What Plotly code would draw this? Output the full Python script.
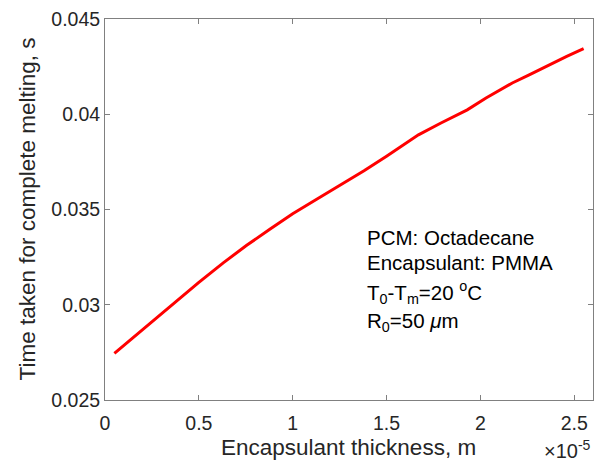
import plotly.graph_objects as go

# Data (thickness in m, time in s)
thickness = [0.05e-5, 0.22e-5, 0.36e-5, 0.50e-5, 0.63e-5, 0.755e-5, 0.88e-5, 1.0e-5,
             1.13e-5, 1.25e-5, 1.38e-5, 1.50e-5, 1.67e-5, 1.79e-5, 1.93e-5,
             2.03e-5, 2.17e-5, 2.26e-5, 2.35e-5, 2.46e-5, 2.55e-5]
melt_time = [0.02745, 0.02885, 0.03003, 0.03117, 0.03220, 0.03312, 0.03398, 0.03478,
             0.03555, 0.03626, 0.03703, 0.03780, 0.03892, 0.03954, 0.04023,
             0.04085, 0.04164, 0.04207, 0.04251, 0.04304, 0.04344]

x_tickvals = [0, 0.5e-5, 1.0e-5, 1.5e-5, 2.0e-5, 2.5e-5]
x_ticktext = ["0", "0.5", "1", "1.5", "2", "2.5"]
y_tickvals = [0.025, 0.03, 0.035, 0.04, 0.045]
y_ticktext = ["0.025", "0.03", "0.035", "0.04", "0.045"]

notes = ["PCM: Octadecane",
         "Encapsulant: PMMA",
         "T<sub>0</sub>-T<sub>m</sub>=20 <sup>o</sup>C",
         "R<sub>0</sub>=50 <i>μ</i>m"]
note_px_y = [237, 262, 292, 322]

FONT = "Arial, Liberation Sans, Helvetica, sans-serif"
W, H = 602, 463
L, R, T, B = 105, 9, 19, 63
pw, ph = W - L - R, H - T - B

def px2paper(px, py):
    return (px - L) / pw, (H - B - py) / ph

fig = go.Figure()
fig.add_trace(go.Scatter(x=thickness, y=melt_time, mode="lines",
                         line=dict(color="#ff0000", width=3), showlegend=False))

axis_common = dict(showgrid=False, zeroline=False, showline=True, linecolor="#808080",
                   linewidth=1, mirror="ticks", ticks="inside", ticklen=5,
                   tickcolor="#808080", tickfont=dict(family=FONT, size=19.5, color="#262626"))

fig.update_xaxes(range=[0, 2.6e-5], tickvals=x_tickvals, ticktext=x_ticktext,
                 ticklabelstandoff=6, **axis_common)
fig.update_yaxes(range=[0.025, 0.045], tickvals=y_tickvals, ticktext=y_ticktext, **axis_common)

annotations = []
for txt, py in zip(notes, note_px_y):
    ax, ay = px2paper(365, py)
    annotations.append(dict(text=txt, x=ax, y=ay, xref="paper", yref="paper",
                            xanchor="left", yanchor="middle", showarrow=False,
                            font=dict(family=FONT, size=20.5, color="#000000")))

tx, ty = px2paper(348, 447)
annotations.append(dict(text="Encapsulant thickness, m", x=tx, y=ty, xref="paper", yref="paper",
                        xanchor="center", yanchor="middle", showarrow=False,
                        font=dict(family=FONT, size=22.5, color="#262626")))
yx, yy = px2paper(27, 209.5)
annotations.append(dict(text="Time taken for complete melting, s", x=yx, y=yy,
                        xref="paper", yref="paper", textangle=-90,
                        xanchor="center", yanchor="middle", showarrow=False,
                        font=dict(family=FONT, size=22.5, color="#262626")))
ex, ey = px2paper(593, 450)
annotations.append(dict(text="×10<sup>-5</sup>", x=ex, y=ey, xref="paper", yref="paper",
                        xanchor="right", yanchor="middle", showarrow=False,
                        font=dict(family=FONT, size=20, color="#262626")))

fig.update_layout(width=W, height=H, margin=dict(l=L, r=R, t=T, b=B, autoexpand=False),
                  paper_bgcolor="white", plot_bgcolor="white", annotations=annotations)

fig.write_html("out.html")
